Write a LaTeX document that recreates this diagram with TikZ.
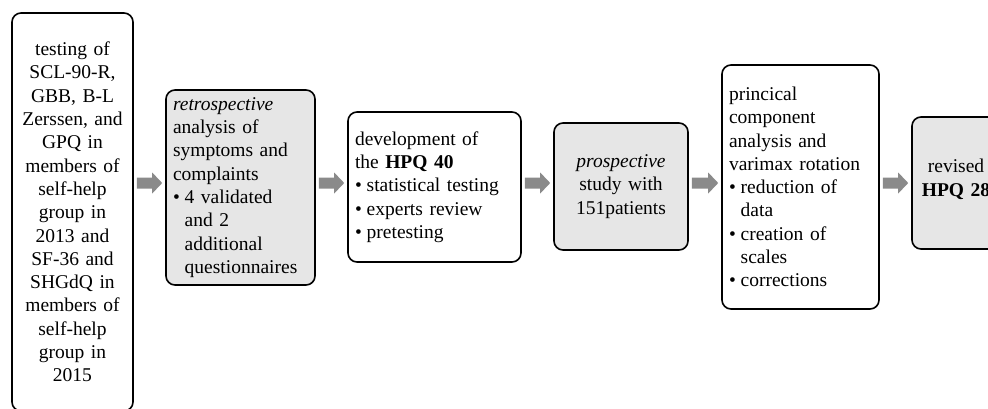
\documentclass[tikz,border=0pt]{standalone}
\usepackage{fontspec}
\setmainfont{Liberation Serif}
\usetikzlibrary{calc}
\definecolor{boxgray}{HTML}{E6E6E6}
\definecolor{arrowgray}{HTML}{8A8A8A}
\newcommand\bul{\makebox[11.7pt][l]{\textbullet}}
\newcommand\ind{\hspace*{11.7pt}}
\newcommand\blockarrow[2]{%
  \fill[arrowgray] let \p1=(#1.east |- axis), \p2=(#2.west |- axis) in
    (\x1+3pt,\y1+5.5pt) -- (\x2-13pt,\y1+5.5pt) -- (\x2-13pt,\y1+10.5pt) --
    (\x2-3pt,\y1) -- (\x2-13pt,\y1-10.5pt) -- (\x2-13pt,\y1-5.5pt) --
    (\x1+3pt,\y1-5.5pt) -- cycle;}
\begin{document}
\begin{tikzpicture}[x=1pt,y=-1pt,
  stage/.style={draw=black, line width=1.6pt, rounded corners=9pt,
    inner xsep=7pt, inner ysep=0pt, fill=white,
    font=\fontsize{19.5}{23.3}\selectfont},
  shaded/.style={stage, fill=boxgray}]
\useasboundingbox (0,0) rectangle (988,408);
\coordinate (axis) at (0,183);

\node[stage, text width=107pt, minimum height=398pt, align=center] (b1) at (72.5,212)
  {testing of\\SCL-90-R,\\GBB, B-L\\Zerssen, and\\GPQ in\\members of\\self-help\\group in\\2013 and\\SF-36 and\\SHGdQ in\\members of\\self-help\\group in\\2015};

\node[shaded, text width=135pt, minimum height=195pt, align=left] (b2) at (240.5,187.5)
  {\textit{retrospective}\\analysis of\\symptoms and\\complaints\\\bul 4 validated\\\ind and 2\\\ind additional\\\ind questionnaires};

\node[stage, text width=159pt, minimum height=150pt, align=left] (b3) at (434.5,187)
  {development of\\the \textbf{HPQ 40}\\\bul statistical testing\\\bul experts review\\\bul pretesting};

\node[shaded, text width=120pt, minimum height=127pt, align=center] (b4) at (621,186.5)
  {\textit{prospective}\\study with\\151patients};

\node[stage, text width=143pt, minimum height=244pt, align=left] (b5) at (800.5,187)
  {princical\\component\\analysis and\\varimax rotation\\\bul reduction of\\\ind data\\\bul creation of\\\ind scales\\\bul corrections};

\node[shaded, text width=74pt, minimum height=132pt, align=center] (b6) at (956,183)
  {revised\\\textbf{HPQ 28}\\[-13pt]\mbox{}};

\blockarrow{b1}{b2}
\blockarrow{b2}{b3}
\blockarrow{b3}{b4}
\blockarrow{b4}{b5}
\blockarrow{b5}{b6}
\end{tikzpicture}
\end{document}
